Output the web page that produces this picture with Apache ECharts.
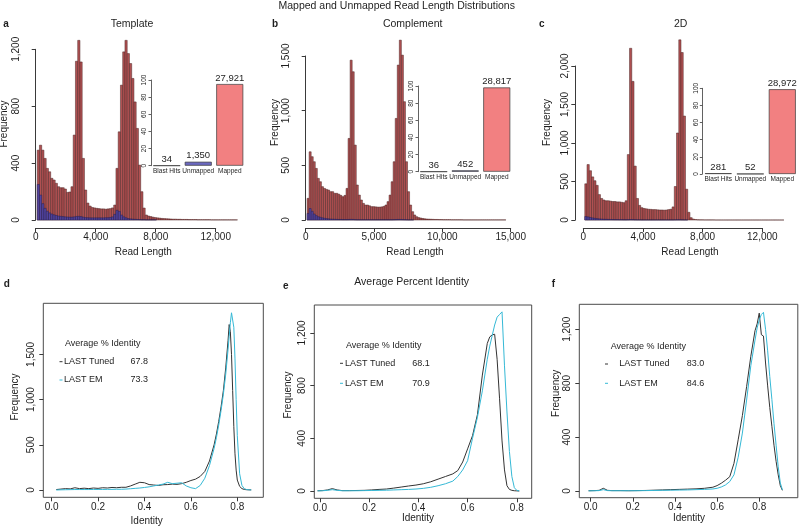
<!DOCTYPE html>
<html><head><meta charset="utf-8">
<script src="https://cdn.jsdelivr.net/npm/echarts@6/dist/echarts.min.js"></script>
<style>html,body{margin:0;padding:0;background:#fff}#c{width:800px;height:529px}</style>
</head><body><div id="c"></div>
<script>
// ---------- histogram data (bins of 150 starting at 100) ----------
const binStart = 100;
const binWidth = 150;

const aMapped = [491,526,491,433,363,339,293,281,258,234,227,227,218,194,197,234,
  597,1116,1263,1111,433,211,119,98,
  88,85,82,80,78,78,76,78,80,85,
  105,363,620,948,1182,1263,1170,1100,995,830,644,386,199,84,35,
  28,24,20,17,15,13,11,10,9,8,7,6,6,5,5,4,4,4,3,3,3,3,2,2,2,2,2,2,1,1,1,1,1,1,1,1,1,1,1,1];
const aUnmapped = [250,175,115,82,62,50,42,36,32,28,26,24,22,21,20,20,
  22,25,26,24,20,17,16,15,
  15,15,15,15,15,15,16,16,18,22,
  40,68,60,35,22,15,10,8,6,5,4,3,2,2,1,1,1,1,1];

const bMapped = [198,624,579,533,472,381,350,305,289,280,274,259,259,244,244,236,225,213,225,289,
  746,1462,1356,685,320,228,183,152,
  137,137,130,122,122,120,118,118,120,125,137,
  168,228,350,533,929,1417,1645,1508,1082,533,259,137,76,46,30,
  22,18,14,11,9,8,7,6,5,5,4,4,3,3,3,3,2,2,2,2,2,2,1,1,1,1,1,1,1,1,1,1,1,1,1,1,1,1,1,1,1,1,1];
const bUnmapped = [60,105,80,55,40,30,25,20,16,13,11,9,8,7,6,5,5,4,4,4,
  5,6,5,3,2,2,2,2,2,2,2,2,2,2,2,2,2,2,2,
  2,2,2,3,4,5,5,4,3,2,1,1,1];

const cMapped = [470,720,640,560,510,450,330,280,260,250,250,245,240,240,235,235,230,225,250,
  850,2230,1800,700,280,190,160,
  150,145,140,138,135,135,132,130,130,128,130,135,140,170,
  435,1130,2340,2175,1350,400,100,30,
  12,6,3,2,2,1,1,1,1,1,0,0,0,0,0,0,0,0,0,0,0,0,0,0,0,0,0,0,0,0,0,0,0,0,0,0,0,0,0,0,0];
const cUnmapped = [45,40,33,27,22,18,15,12,10,9,8,7,6,5,5,4,4,3,3,
  4,6,5,3,2,2,1,1,1,1,1,1,1,1,1,1,1,1,1,1,1,2,3,3,2,1,1];

// ---------- inset bar data ----------
const insetCats = ['Blast Hits', 'Unmapped', 'Mapped'];
const aCounts = [34, 1350, 27921];
const aPercent = [0.12, 4.6, 95.3];
const bCounts = [36, 452, 28817];
const bPercent = [0.12, 1.54, 98.3];
const cCounts = [281, 52, 28972];
const cPercent = [0.96, 0.18, 98.9];

// ---------- identity data ----------
const dIdentity = [0.02,0.04,0.06,0.08,0.10,0.12,0.14,0.16,0.18,0.20,0.22,0.24,0.26,0.28,0.30,
  0.32,0.34,0.36,0.38,0.40,0.42,0.44,0.46,0.48,0.50,0.52,0.54,0.56,0.58,0.60,
  0.62,0.64,0.66,0.68,0.70,0.71,0.72,0.73,0.74,0.75,0.76,
  0.765,0.77,0.775,0.78,0.785,0.79,0.795,0.80,0.81,0.82,0.83,0.84,0.85,0.86];
const dTuned = [5,10,15,12,25,15,20,15,22,18,25,22,28,25,30,
  30,45,65,85,80,60,55,50,58,60,65,62,70,85,105,
  120,150,205,320,500,620,760,920,1100,1350,1650,
  1830,1750,1500,1100,700,400,220,110,40,15,6,3,2,1];
const dEM = [0,2,3,4,5,5,5,5,6,6,6,7,7,8,8,
  10,14,18,22,28,35,45,55,65,85,70,75,80,45,25,
  15,50,130,270,460,580,720,880,1060,1280,1550,
  1700,1850,1960,1970,1800,1450,1000,600,180,50,15,5,2,1];

const eIdentity = [-0.01,0.01,0.03,0.05,0.07,0.09,
  0.12,0.15,0.18,0.21,0.24,0.27,0.30,0.33,0.36,0.39,0.42,0.45,0.48,0.51,0.54,
  0.56,0.58,0.60,0.62,0.64,0.66,0.68,
  0.69,0.70,0.71,0.72,0.73,0.74,0.75,0.76,0.77,0.78,0.79,0.80,0.81];
const eTuned = [2,3,8,18,8,3,
  3,4,5,8,12,15,22,30,38,45,55,70,90,110,130,
  155,220,320,420,580,880,1120,
  1170,1185,1190,1000,700,380,160,40,12,5,2,1,0];
const eEM = [1,2,5,10,5,2,
  2,2,3,4,5,6,8,10,12,15,20,28,40,55,75,
  110,160,230,400,560,760,1000,
  1100,1180,1260,1320,1340,1360,950,600,300,110,25,5,1];

const fIdentity = [-0.01,0.02,0.04,0.06,0.08,0.10,
  0.14,0.18,0.22,0.26,0.30,0.34,0.38,0.42,0.46,0.50,0.54,0.58,
  0.60,0.62,0.64,0.66,0.68,0.70,0.72,0.74,0.76,0.78,
  0.79,0.80,0.81,0.82,0.83,0.84,0.85,0.86,0.87,0.88,0.89,0.90,0.91];
const fTuned = [2,3,5,20,5,3,
  3,2,3,4,6,8,10,12,14,16,20,28,
  40,58,80,106,205,380,560,774,1000,1190,
  1240,1320,1160,1150,950,780,620,480,340,220,120,40,5];
const fEM = [1,2,3,10,3,2,
  2,2,2,3,4,5,6,7,8,10,12,15,
  20,30,45,70,120,250,430,675,930,1120,
  1210,1270,1310,1326,1200,1040,850,680,500,340,180,60,8];

// ---------- styling helpers ----------
const FONT = '"Liberation Sans", Arial, Helvetica, sans-serif';
const TXT = '#1e1e1e';
const AX = '#3a3a3a';
const HIST_RED = '#b05152';
const HIST_BLUE = '#5244a0';
const INSET_COLORS = ['#a4373d', '#6b68c0', '#f28081'];
const TUNED_COLOR = '#333333';
const EM_COLOR = '#35b9d6';

function commas(v) { return Math.round(v).toString().replace(/\B(?=(\d{3})+(?!\d))/g, ','); }

function hist(axis, values, fill, stroke, z) {
  return {
    type: 'custom', xAxisIndex: axis, yAxisIndex: axis, clip: false, z: z, silent: true,
    data: values.map((v, i) => [binStart + i * binWidth, binStart + (i + 1) * binWidth, v]),
    renderItem: function (params, api) {
      const tl = api.coord([api.value(0), api.value(2)]);
      const br = api.coord([api.value(1), 0]);
      return { type: 'rect',
        shape: { x: tl[0], y: tl[1], width: br[0] - tl[0], height: br[1] - tl[1] },
        style: { fill: fill, stroke: stroke, lineWidth: 0.5 } };
    }
  };
}

function mainX(grid, max, interval) {
  return { gridIndex: grid, type: 'value', min: 0, max: max, interval: interval, offset: 8,
    axisLine: { show: true, onZero: false, lineStyle: { color: AX, width: 1 } },
    axisTick: { show: true, length: 4, lineStyle: { color: AX } },
    axisLabel: { fontSize: 10, fontFamily: FONT, color: TXT, margin: 4, formatter: commas },
    splitLine: { show: false } };
}
function mainY(grid, max, interval, offset, margin) {
  return { gridIndex: grid, type: 'value', min: 0, max: max, interval: interval, offset: offset,
    axisLine: { show: true, onZero: false, lineStyle: { color: AX, width: 1 } },
    axisTick: { show: true, length: 4, lineStyle: { color: AX } },
    axisLabel: { fontSize: 10, fontFamily: FONT, color: TXT, margin: margin, rotate: 90, formatter: commas },
    splitLine: { show: false } };
}
function insetX(grid) {
  return { gridIndex: grid, type: 'category', data: insetCats,
    axisLine: { show: false, onZero: false }, axisTick: { show: false },
    axisLabel: { fontSize: 6.5, fontFamily: FONT, color: TXT, margin: 2, interval: 0 } };
}
function insetY(grid) {
  return { gridIndex: grid, type: 'value', min: 0, max: 100, interval: 20,
    axisLine: { show: true, onZero: false, lineStyle: { color: AX, width: 0.8 } },
    axisTick: { show: true, length: 2.5, lineStyle: { color: AX, width: 0.8 } },
    axisLabel: { fontSize: 6.5, fontFamily: FONT, color: TXT, margin: 3, rotate: 90 },
    splitLine: { show: false } };
}
function insetBar(axis, percent, counts) {
  return { type: 'bar', xAxisIndex: axis, yAxisIndex: axis, barWidth: 27, silent: true,
    data: percent.map((v, i) => ({ value: v, itemStyle: { color: INSET_COLORS[i] } })),
    itemStyle: { borderColor: '#3a3a3a', borderWidth: 0.7 },
    label: { show: true, position: 'top', distance: 1, fontSize: 9.5, fontFamily: FONT, color: TXT,
      formatter: p => commas(counts[p.dataIndex]) } };
}
const idTicks = [0, 0.2, 0.4, 0.6, 0.8];
function idX(grid, min, max) {
  return { gridIndex: grid, type: 'value', min: min, max: max,
    axisLine: { show: false, onZero: false },
    axisTick: { show: true, length: 4, customValues: idTicks, lineStyle: { color: AX } },
    axisLabel: { fontSize: 10, fontFamily: FONT, color: TXT, margin: 5, customValues: idTicks,
      formatter: v => v.toFixed(1) },
    splitLine: { show: false } };
}
function idY(grid, min, max, ticks) {
  return { gridIndex: grid, type: 'value', min: min, max: max,
    axisLine: { show: false, onZero: false },
    axisTick: { show: true, length: 4, customValues: ticks, lineStyle: { color: AX } },
    axisLabel: { fontSize: 10, fontFamily: FONT, color: TXT, margin: 7, rotate: 90, customValues: ticks,
      formatter: commas },
    splitLine: { show: false } };
}
function idLine(axis, xs, ys, color, z) {
  return { type: 'line', xAxisIndex: axis, yAxisIndex: axis, showSymbol: false, silent: true, z: z,
    data: xs.map((x, i) => [x, ys[i]]), lineStyle: { color: color, width: 1 } };
}

function txt(x, y, text, size, opts) {
  opts = opts || {};
  return { type: 'text', x: x, y: y, rotation: opts.rot || 0, silent: true,
    style: { text: text, fontSize: size, fontFamily: FONT, fontWeight: opts.bold ? 'bold' : 'normal',
      fill: TXT, textAlign: opts.align || 'center', align: opts.align || 'center',
      textVerticalAlign: 'middle', verticalAlign: 'middle' } };
}
function dash(x, y, color) {
  return { type: 'line', silent: true, shape: { x1: x, y1: y, x2: x + 3, y2: y },
    style: { stroke: color, lineWidth: 1 } };
}

const boxStyle = { show: true, borderColor: '#4a4a4a', borderWidth: 1, backgroundColor: 'transparent' };

const option = {
  animation: false,
  backgroundColor: '#ffffff',
  grid: [
    { left: 35.7, top: 49.3, width: 180, height: 170.7, outerBoundsMode: 'none' },
    { left: 151, top: 80, width: 94.5, height: 85.7, outerBoundsMode: 'none' },
    { left: 305.7, top: 56, width: 205, height: 164, outerBoundsMode: 'none' },
    { left: 418, top: 86, width: 94.5, height: 85.7, outerBoundsMode: 'none' },
    { left: 583.3, top: 66, width: 179, height: 154, outerBoundsMode: 'none' },
    { left: 702.3, top: 88.3, width: 96, height: 85.7, outerBoundsMode: 'none' },
    Object.assign({ left: 43.3, top: 303.3, width: 220, height: 194, outerBoundsMode: 'none' }, boxStyle),
    Object.assign({ left: 314.3, top: 305, width: 217.4, height: 193.3, outerBoundsMode: 'none' }, boxStyle),
    Object.assign({ left: 579.3, top: 304.3, width: 218.5, height: 193.4, outerBoundsMode: 'none' }, boxStyle)
  ],
  xAxis: [
    mainX(0, 12000, 4000), insetX(1),
    mainX(2, 15000, 5000), insetX(3),
    mainX(4, 12000, 4000), insetX(5),
    idX(6, -0.036, 0.912), idX(7, -0.0232, 0.8606), idX(8, -0.054, 0.983)
  ],
  yAxis: [
    mainY(0, 1200, 400, 0, 14), insetY(1),
    mainY(2, 1500, 500, 0, 14), insetY(3),
    mainY(4, 2000, 500, 8, 5), insetY(5),
    idY(6, -80.8, 2065, [0, 500, 1000, 1500]),
    idY(7, -55.4, 1412, [0, 400, 800, 1200]),
    idY(8, -49.7, 1385.6, [0, 400, 800, 1200])
  ],
  series: [
    hist(0, aMapped, HIST_RED, '#4d2424', 2), hist(0, aUnmapped, HIST_BLUE, '#2a2050', 3),
    insetBar(1, aPercent, aCounts),
    hist(2, bMapped, HIST_RED, '#4d2424', 2), hist(2, bUnmapped, HIST_BLUE, '#2a2050', 3),
    insetBar(3, bPercent, bCounts),
    hist(4, cMapped, HIST_RED, '#4d2424', 2), hist(4, cUnmapped, HIST_BLUE, '#2a2050', 3),
    insetBar(5, cPercent, cCounts),
    idLine(6, dIdentity, dTuned, TUNED_COLOR, 2), idLine(6, dIdentity, dEM, EM_COLOR, 3),
    idLine(7, eIdentity, eTuned, TUNED_COLOR, 2), idLine(7, eIdentity, eEM, EM_COLOR, 3),
    idLine(8, fIdentity, fTuned, TUNED_COLOR, 2), idLine(8, fIdentity, fEM, EM_COLOR, 3)
  ],
  graphic: [
    txt(396.7, 6, 'Mapped and Unmapped Read Length Distributions', 10.5),
    txt(6, 24, 'a', 10, { bold: true }), txt(132, 24, 'Template', 10.5),
    txt(275, 24, 'b', 10, { bold: true }), txt(412.7, 24, 'Complement', 10.5),
    txt(541.7, 24, 'c', 10, { bold: true }), txt(680.7, 24, '2D', 10.5),
    txt(4.5, 124, 'Frequency', 10, { rot: Math.PI / 2 }),
    txt(275, 122.5, 'Frequency', 10, { rot: Math.PI / 2 }),
    txt(547, 122.5, 'Frequency', 10, { rot: Math.PI / 2 }),
    txt(143.3, 252.3, 'Read Length', 10), txt(415, 252.3, 'Read Length', 10), txt(690, 252.3, 'Read Length', 10),
    txt(411.7, 281.7, 'Average Percent Identity', 10.5),
    txt(6.7, 284.3, 'd', 10, { bold: true }), txt(285.7, 286, 'e', 10, { bold: true }), txt(553.3, 284.3, 'f', 10, { bold: true }),
    txt(15, 397, 'Frequency', 10, { rot: Math.PI / 2 }),
    txt(288.3, 395, 'Frequency', 10, { rot: Math.PI / 2 }),
    txt(556.7, 393.3, 'Frequency', 10, { rot: Math.PI / 2 }),
    txt(146.7, 521, 'Identity', 10), txt(418, 518, 'Identity', 10), txt(689, 518, 'Identity', 10),
    // legend d
    txt(65, 343.3, 'Average % Identity', 9, { align: 'left' }),
    dash(59.5, 361.7, TUNED_COLOR), txt(64, 361.7, 'LAST Tuned', 9, { align: 'left' }), txt(130.5, 361.7, '67.8', 9, { align: 'left' }),
    dash(59.5, 380, EM_COLOR), txt(64, 380, 'LAST EM', 9, { align: 'left' }), txt(130.5, 380, '73.3', 9, { align: 'left' }),
    // legend e
    txt(346, 346, 'Average % Identity', 9, { align: 'left' }),
    dash(340, 363.3, TUNED_COLOR), txt(345, 363.3, 'LAST Tuned', 9, { align: 'left' }), txt(412.3, 363.3, '68.1', 9, { align: 'left' }),
    dash(340, 383.3, EM_COLOR), txt(345, 383.3, 'LAST EM', 9, { align: 'left' }), txt(412.3, 383.3, '70.9', 9, { align: 'left' }),
    // legend f
    txt(610.7, 346.7, 'Average % Identity', 9, { align: 'left' }),
    dash(605, 364, TUNED_COLOR), txt(619.3, 364, 'LAST Tuned', 9, { align: 'left' }), txt(686.7, 364, '83.0', 9, { align: 'left' }),
    dash(605, 383.3, EM_COLOR), txt(619.3, 383.3, 'LAST EM', 9, { align: 'left' }), txt(686.7, 383.3, '84.6', 9, { align: 'left' })
  ]
};

const chart = echarts.init(document.getElementById('c'), null, { renderer: 'canvas', width: 800, height: 529 });
chart.setOption(option);
</script>
</body></html>
